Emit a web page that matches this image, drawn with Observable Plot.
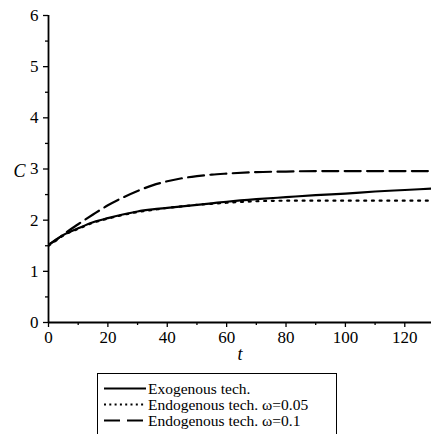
<!DOCTYPE html>
<html>
<head>
<meta charset="utf-8">
<script src="https://cdn.jsdelivr.net/npm/d3@7"></script>
<script src="https://cdn.jsdelivr.net/npm/@observablehq/plot@0.6"></script>
<style>
  body { margin: 0; background: #fff; }
  #chart { position: relative; width: 431px; height: 434px; overflow: hidden;
           font-family: "Liberation Serif", "Times New Roman", Times, "DejaVu Serif", serif; color: #000; }
  #chart svg { display: block; }
  #chart svg text { font-family: "Liberation Serif", "Times New Roman", Times, "DejaVu Serif", serif; }
  .legend { position: absolute; left: 97px; top: 373px; width: 238px; height: 80px;
            border: 1.5px solid #000; background: #fff; }
  .legend .row { position: absolute; left: 6px; height: 15px; display: flex; align-items: center;
                 font-size: 15.5px; line-height: 15px; white-space: nowrap; }
  .legend .row svg { margin-right: 2px; }
</style>
</head>
<body>
<div id="chart"></div>
<script>
// Time grid shared by the three simulated paths
const tGrid = [0, 3, 5, 10, 15, 20, 25, 30, 35, 40, 45, 50, 55, 60, 70, 80, 90, 100, 110, 120, 130];

// Consumption C(t) for each scenario
const cExogenous = [1.52, 1.64, 1.71, 1.84, 1.96, 2.04, 2.11, 2.17, 2.21, 2.24, 2.27, 2.30, 2.33, 2.36, 2.41, 2.45, 2.49, 2.52, 2.56, 2.59, 2.62];
const cEndo005   = [1.50, 1.62, 1.70, 1.83, 1.95, 2.03, 2.10, 2.16, 2.20, 2.24, 2.27, 2.30, 2.32, 2.34, 2.37, 2.38, 2.38, 2.38, 2.38, 2.38, 2.38];
const cEndo01    = [1.52, 1.63, 1.72, 1.92, 2.11, 2.29, 2.44, 2.57, 2.68, 2.76, 2.82, 2.86, 2.89, 2.91, 2.94, 2.95, 2.96, 2.96, 2.96, 2.96, 2.96];

const seriesNames = ["Exogenous tech.", "Endogenous tech. \u03c9=0.05", "Endogenous tech. \u03c9=0.1"];
const seriesDash = ["none", "2,5.7", "16,6.4"];

const xTicks = [0, 20, 40, 60, 80, 100, 120];
const xMinorTicks = [10, 30, 50, 70, 90, 110];
const yTicks = [0, 1, 2, 3, 4, 5, 6];
const yMinorTicks = [0.5, 1.5, 2.5, 3.5, 4.5, 5.5];

const serif = "Liberation Serif, Times New Roman, Times, DejaVu Serif, serif";
const toRows = (ys) => tGrid.map((t, i) => ({t, C: ys[i]}));
const series = [cExogenous, cEndo005, cEndo01].map(toRows);

const plot = Plot.plot({
  width: 431,
  height: 366,
  marginLeft: 48,
  marginRight: 0,
  marginTop: 15,
  marginBottom: 44,
  style: {fontFamily: serif, fontSize: "16px", color: "#000", background: "#fff"},
  x: {domain: [0, 129]},
  y: {domain: [0, 6]},
  marks: [
    ...series.map((rows, i) => Plot.line(rows, {
      x: "t", y: "C", stroke: "#000", strokeWidth: 2.2,
      strokeDasharray: seriesDash[i], curve: "monotone-x", clip: true
    })),
    Plot.axisY({ticks: yTicks, tickSize: 5, tickPadding: 5, tickFormat: d3.format("d"), label: null, stroke: "#000", strokeWidth: 1.3, fontSize: 17}),
    Plot.axisY({ticks: yMinorTicks, tickSize: 3, tickFormat: () => "", label: null, stroke: "#000", strokeWidth: 1.3}),
    Plot.axisX({ticks: xTicks, tickSize: 5, tickPadding: 3, tickFormat: d3.format("d"), label: null, stroke: "#000", strokeWidth: 1.3, fontSize: 17}),
    Plot.axisX({ticks: xMinorTicks, tickSize: 3, tickFormat: () => "", label: null, stroke: "#000", strokeWidth: 1.3}),
    Plot.ruleX([0], {stroke: "#000", strokeWidth: 1.8}),
    Plot.ruleY([0], {stroke: "#000", strokeWidth: 1.8}),
    Plot.text(["t"], {frameAnchor: "bottom", dy: 37, fontStyle: "italic", fontSize: 18}),
    Plot.text(["C"], {frameAnchor: "left", y: () => 3, dx: -35, dy: 2, fontStyle: "italic", fontSize: 18})
  ]
});

const chart = document.getElementById("chart");
chart.appendChild(plot);

// Legend box below the plot
const legend = document.createElement("div");
legend.className = "legend";
const rowCenters = [14, 30, 46];
const legendDash = ["none", "2,3.3", "16,7"];
seriesNames.forEach((name, i) => {
  const row = document.createElement("div");
  row.className = "row";
  row.style.top = (rowCenters[i] - 7.5) + "px";
  const sw = d3.create("svg").attr("width", 42).attr("height", 15);
  sw.append("line").attr("x1", 0).attr("x2", 42).attr("y1", 7.5).attr("y2", 7.5)
    .attr("stroke", "#000").attr("stroke-width", 2).attr("stroke-dasharray", legendDash[i]);
  row.appendChild(sw.node());
  const label = document.createElement("span");
  label.textContent = name;
  row.appendChild(label);
  legend.appendChild(row);
});
chart.appendChild(legend);
</script>
</body>
</html>
